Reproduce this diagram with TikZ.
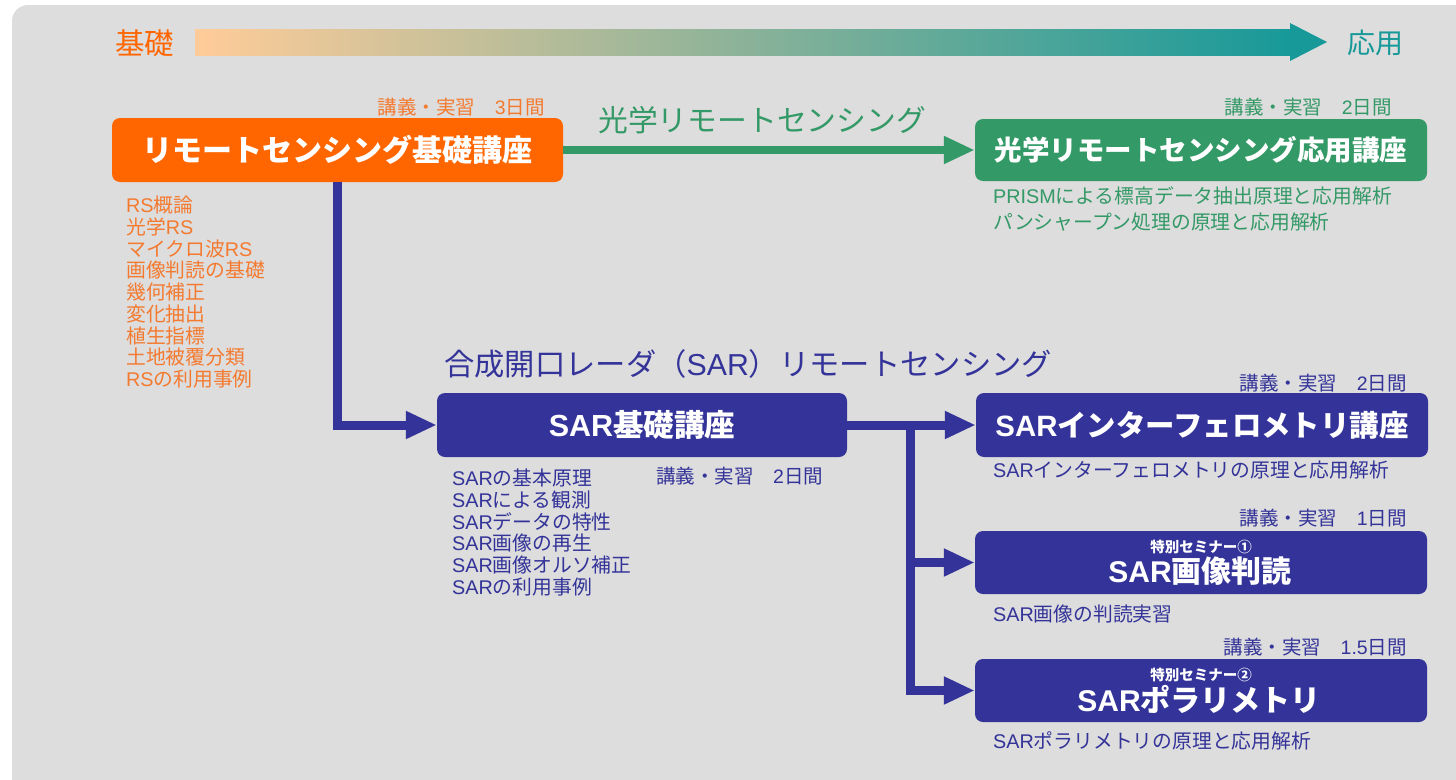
\documentclass[tikz,border=0pt]{standalone}
\usepackage{fontspec}
\setmainfont{Noto Sans CJK JP}
\newfontfamily\cjkfam{Noto Sans CJK JP}
\newfontfamily\latfam{Liberation Sans}
% 和文と欧文の自動切り替え
\XeTeXinterchartokenstate=1
\newXeTeXintercharclass\cjkclass
\newcount\cjkcode
\def\cjkrange#1#2{\cjkcode=#1\relax
  \loop\XeTeXcharclass\cjkcode=\cjkclass
  \ifnum\cjkcode<#2\advance\cjkcode by 1\repeat}
\cjkrange{"2460}{"24FF}
\cjkrange{"3000}{"30FF}
\cjkrange{"4E00}{"9FFF}
\cjkrange{"FF00}{"FFEF}
\XeTeXinterchartoks 0 \cjkclass = {\cjkfam}
\XeTeXinterchartoks \cjkclass 0 = {\latfam}
\XeTeXinterchartoks 4095 0 = {\latfam}
\usepackage{tikz}
\usetikzlibrary{
  positioning,
  arrows.meta
}
\definecolor{bgray}{HTML}{DDDDDD}
\definecolor{rsorange}{HTML}{FF6600}
\definecolor{rstext}{HTML}{F47A30}
\definecolor{optgreen}{HTML}{339966}
\definecolor{sarblue}{HTML}{333399}
\definecolor{appteal}{HTML}{179999}
\definecolor{peach}{HTML}{FFCC99}
\definecolor{midtan}{HTML}{CAB894}
\tikzstyle{course}=[rounded corners=8pt, inner sep=0pt, text=white, minimum height=64pt, font=\bfseries\fontsize{30}{32}\selectfont]
\tikzstyle{seminar}=[inner sep=0pt, text=white, font=\bfseries\fontsize{14.5}{16}\selectfont]
\tikzstyle{days}=[anchor=east, inner sep=0pt, font=\fontsize{19.5}{21}\selectfont]
\tikzstyle{topic}=[anchor=west, inner sep=0pt, font=\fontsize{19.8}{21}\selectfont]
\tikzstyle{heading}=[anchor=west, inner sep=0pt, font=\fontsize{29.8}{32}\selectfont]
\tikzstyle{flow}=[line width=9pt, -{Triangle[length=31pt, width=26pt]}]

\begin{document}
\begin{tikzpicture}[x=1pt, y=-1pt]
    \useasboundingbox (0,0) rectangle (1456,779);
    % 背景
    \fill[bgray, rounded corners=16pt] (12,5) rectangle (1475,800);

    % 基礎→応用の矢印
    \node[heading, text=rsorange, font=\fontsize{29.5}{32}\selectfont] (kiso) at (115,43) {基礎};
    \shade[left color=peach, middle color=midtan, right color=appteal] (195,29) rectangle (1292,55);
    \fill[appteal] (1290,23) -- (1327,42) -- (1290,61) -- cycle;
    \node[heading, text=appteal, font=\fontsize{28}{30}\selectfont] (oyo) at (1347,43) {応用};

    % 講座の箱
    \node[course, fill=rsorange, minimum width=451pt] (rsbasic) at (337.5,150) {リモートセンシング基礎講座};
    \node[course, fill=optgreen, minimum width=452pt, minimum height=62pt,
          font=\bfseries\fontsize{27.5}{30}\selectfont] (optapp) at (1201,150) {光学リモートセンシング応用講座};
    \node[course, fill=sarblue, minimum width=410pt,
          font=\bfseries\fontsize{30.5}{32}\selectfont] (sarbasic) at (642,425) {SAR基礎講座};
    \node[course, fill=sarblue, minimum width=452pt,
          font=\bfseries\fontsize{29.4}{30}\selectfont] (insar) at (1202,425) {SARインターフェロメトリ講座};
    \node[course, fill=sarblue, minimum width=452pt, minimum height=63pt] (sarimg) at (1201,562.5) {};
    \node[course, minimum height=0pt] (sarimgt) at (1200,571) {SAR画像判読};
    \node[seminar] (sarimgs) at (1201,547) {特別セミナー①};
    \node[course, fill=sarblue, minimum width=452pt, minimum height=63pt] (sarpol) at (1201,690.5) {};
    \node[course, minimum height=0pt] (sarpolt) at (1199,699) {SARポラリメトリ};
    \node[seminar] (sarpols) at (1201,675) {特別セミナー②};

    % 日数
    \node[days, text=rstext] (rsdays) at (545,107) {講義・実習　3日間};
    \node[days, text=optgreen] (optdays) at (1392,107) {講義・実習　2日間};
    \node[days, text=sarblue, anchor=west] (sardays) at (656,476) {講義・実習　2日間};
    \node[days, text=sarblue] (insardays) at (1407,383) {講義・実習　2日間};
    \node[days, text=sarblue] (imgdays) at (1407,518) {講義・実習　1日間};
    \node[days, text=sarblue] (poldays) at (1407,647) {講義・実習　1.5日間};

    % 分野の見出し
    \node[heading, text=optgreen] (optlabel) at (598,120) {光学リモートセンシング};
    \node[heading, text=sarblue, font=\fontsize{30.3}{32}\selectfont] (sarlabel) at (444,364) {合成開口レーダ（SAR）リモートセンシング};

    % 内容
    \foreach \t [count=\i] in {RS概論, 光学RS, マイクロ波RS, 画像判読の基礎, 幾何補正,
                               変化抽出, 植生指標, 土地被覆分類, RSの利用事例}
        \node[topic, text=rstext] (rs\i) at (126, {205+21.75*(\i-1)}) {\t};
    \foreach \t [count=\i] in {SARの基本原理, SARによる観測, SARデータの特性,
                               SAR画像の再生, SAR画像オルソ補正, SARの利用事例}
        \node[topic, text=sarblue] (sar\i) at (452, {478+21.8*(\i-1)}) {\t};
    \node[topic, text=optgreen] (opt1) at (993,196) {PRISMによる標高データ抽出原理と応用解析};
    \node[topic, text=optgreen] (opt2) at (993,222) {パンシャープン処理の原理と応用解析};
    \node[topic, text=sarblue] (insardesc) at (993,470) {SARインターフェロメトリの原理と応用解析};
    \node[topic, text=sarblue] (imgdesc) at (993,614) {SAR画像の判読実習};
    \node[topic, text=sarblue] (poldesc) at (993,741) {SARポラリメトリの原理と応用解析};

    % 矢印
    \draw[flow, optgreen, line width=8pt] (rsbasic.east) -- (optapp.west);
    \draw[flow, sarblue] (rsbasic.south) |- (sarbasic.west);
    \draw[flow, sarblue] (sarbasic.east) -- (insar.west);
    \coordinate (branch) at (910,425);
    \draw[flow, sarblue] (branch) |- (sarpol.west);
    \draw[flow, sarblue] (branch |- sarimg.west) -- (sarimg.west);
\end{tikzpicture}
\end{document}
